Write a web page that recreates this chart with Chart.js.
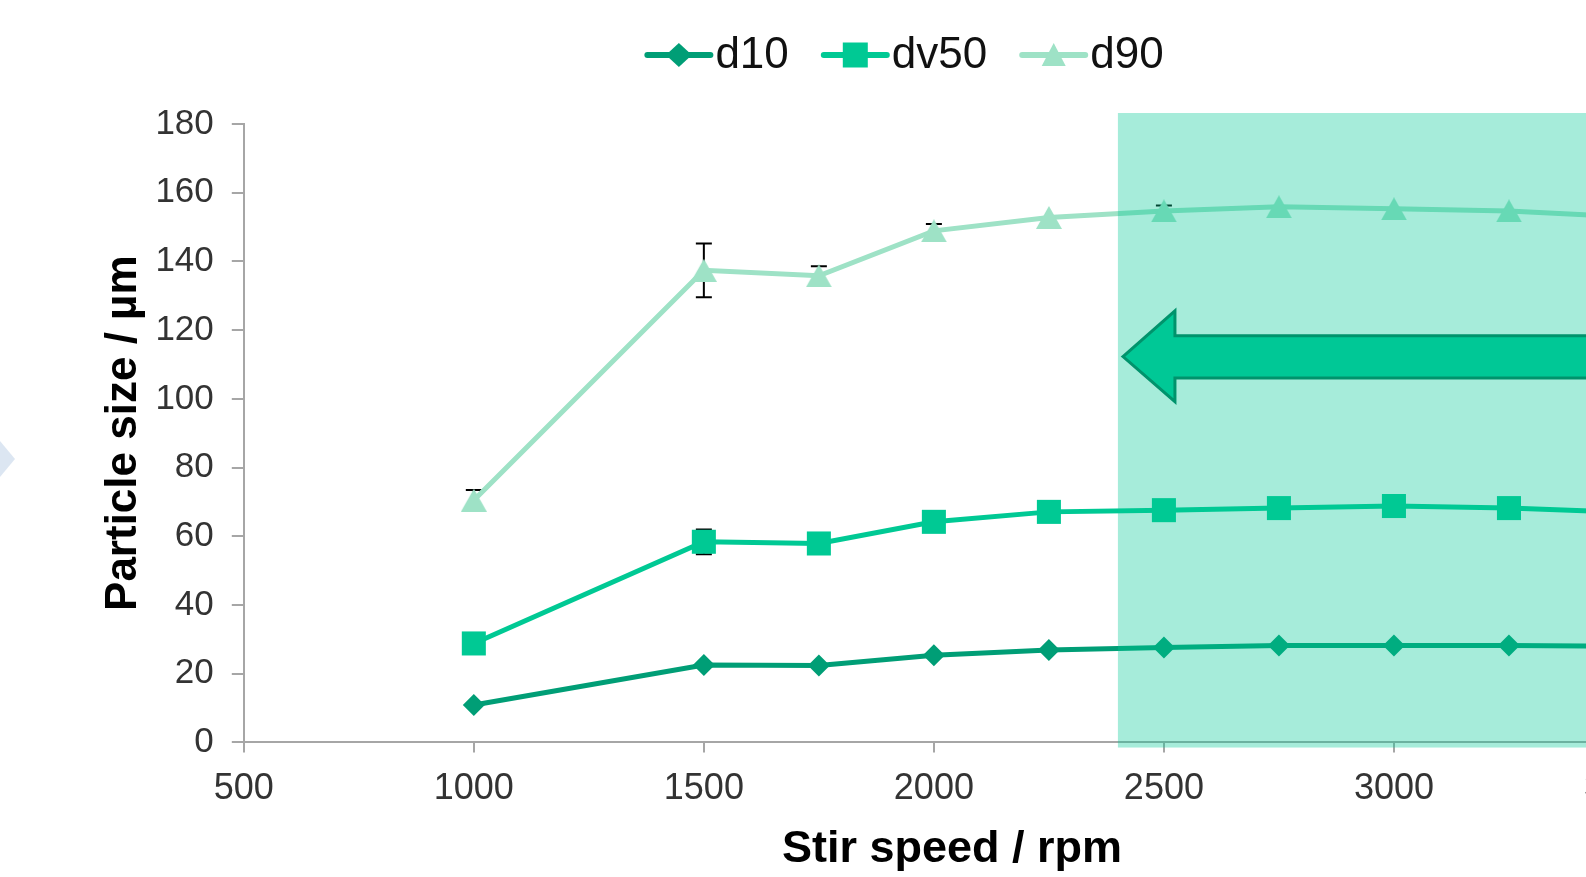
<!DOCTYPE html>
<html>
<head>
<meta charset="utf-8">
<script src="https://cdn.jsdelivr.net/npm/chart.js@4"></script>
<style>
html,body{margin:0;padding:0;overflow:hidden;background:#fff;width:1586px;height:877px;}
#wrap{position:absolute;left:0;top:0;width:1914px;height:877px;}
#deco{position:absolute;left:0;top:441px;width:15px;height:36px;background:#DCE6F2;clip-path:polygon(0 0,100% 50%,0 100%);}
</style>
</head>
<body>
<div id="wrap"><canvas id="c"></canvas></div>
<div id="deco"></div>
<script>
// ---- data ----
const stirSpeed = [1000, 1500, 1750, 2000, 2250, 2500, 2750, 3000, 3250, 3500];
const d10  = [10.9, 22.5, 22.4, 25.4, 26.9, 27.6, 28.2, 28.2, 28.2, 28.0];
const dv50 = [28.8, 58.4, 57.9, 64.2, 67.1, 67.6, 68.2, 68.8, 68.2, 67.0];
const d90  = [70.5, 137.4, 135.8, 148.9, 152.8, 154.7, 155.9, 155.3, 154.7, 153.0];
const d10Err  = [0, 0, 0, 0, 0, 0, 0, 0, 0, 0];
const dv50Err = [0, 3.6, 0, 0, 0, 0, 0, 0, 0, 0];
const d90Err  = [3.0, 7.8, 2.8, 2.0, 0, 1.6, 0, 0, 0, 0];
const seriesNames = ['d10', 'dv50', 'd90'];
const xTicks = [500, 1000, 1500, 2000, 2500, 3000, 3500, 4000];
const yTicks = [0, 20, 40, 60, 80, 100, 120, 140, 160, 180];
const xTitle = 'Stir speed / rpm';
const yTitle = 'Particle size / µm';
// highlighted stir-speed region and arrow annotation (data units)
const highlightX = [2400, 4000];
const highlightY = [-1.5, 183.2];
const arrowX = [2411, 2524, 4000];          // tip, head base, tail
const arrowY = [112.3, 118.4, 106.1, 125.6, 99.2]; // tip, shaft top, shaft bottom, head top, head bottom

// ---- styles ----
const FONT = '"Liberation Sans", Arial, Helvetica, sans-serif';
Chart.defaults.font.family = FONT;
const colors = ['#009E76', '#00C994', '#9EE2C6'];
const axisColor = '#A6A6A6';

// Excel-like triangle marker (centred in its bounding box)
function triangleImage(color, w, h) {
  const c = document.createElement('canvas');
  c.width = w; c.height = h;
  const g = c.getContext('2d');
  g.fillStyle = color;
  g.beginPath();
  g.moveTo(w / 2, 0); g.lineTo(w, h); g.lineTo(0, h);
  g.closePath(); g.fill();
  return c;
}
const styles = ['rectRot', 'rect', triangleImage(colors[2], 26, 23)];
const radii = [11, 17, 13];
const values = [d10, dv50, d90];
const errs = [d10Err, dv50Err, d90Err];

const datasets = seriesNames.map((name, k) => ({
  label: name,
  data: stirSpeed.map((x, i) => ({x: x, y: values[k][i]})),
  errors: errs[k],
  borderColor: colors[k],
  backgroundColor: colors[k],
  pointBackgroundColor: colors[k],
  pointBorderColor: colors[k],
  pointBorderWidth: 0,
  pointStyle: styles[k],
  pointRadius: radii[k],
  pointHoverRadius: radii[k],
  borderWidth: 5,
  tension: 0,
  clip: false
}));

const errorBars = {
  id: 'errorBars',
  beforeDatasetsDraw(chart) {
    const {ctx, scales: {x, y}} = chart;
    ctx.save();
    ctx.strokeStyle = '#000';
    ctx.lineWidth = 2;
    chart.data.datasets.forEach(ds => {
      if (!ds.errors) return;
      ds.data.forEach((p, i) => {
        const e = ds.errors[i];
        if (!e) return;
        const px = x.getPixelForValue(p.x);
        const yt = y.getPixelForValue(p.y + e), yb = y.getPixelForValue(p.y - e);
        ctx.beginPath();
        ctx.moveTo(px, yt); ctx.lineTo(px, yb);
        ctx.moveTo(px - 8, yt); ctx.lineTo(px + 8, yt);
        ctx.moveTo(px - 8, yb); ctx.lineTo(px + 8, yb);
        ctx.stroke();
      });
    });
    ctx.restore();
  }
};

const highlight = {
  id: 'highlight',
  afterDatasetsDraw(chart) {
    const {ctx, scales: {x, y}} = chart;
    ctx.save();
    const x0 = x.getPixelForValue(highlightX[0]), x1 = x.getPixelForValue(highlightX[1]);
    const y0 = y.getPixelForValue(highlightY[1]), y1 = y.getPixelForValue(highlightY[0]);
    ctx.fillStyle = 'rgba(0,200,150,0.35)';
    ctx.fillRect(x0, y0, x1 - x0, y1 - y0);
    // arrow
    const tx = x.getPixelForValue(arrowX[0]), hx = x.getPixelForValue(arrowX[1]), ex = x.getPixelForValue(arrowX[2]);
    const ty = y.getPixelForValue(arrowY[0]), st = y.getPixelForValue(arrowY[1]), sb = y.getPixelForValue(arrowY[2]);
    const ht = y.getPixelForValue(arrowY[3]), hb = y.getPixelForValue(arrowY[4]);
    ctx.beginPath();
    ctx.moveTo(tx, ty);
    ctx.lineTo(hx, ht);
    ctx.lineTo(hx, st);
    ctx.lineTo(ex, st);
    ctx.lineTo(ex, sb);
    ctx.lineTo(hx, sb);
    ctx.lineTo(hx, hb);
    ctx.closePath();
    ctx.fillStyle = '#00C896';
    ctx.fill();
    ctx.lineWidth = 3;
    ctx.lineJoin = 'miter';
    ctx.strokeStyle = '#00936C';
    ctx.stroke();
    ctx.restore();
  }
};

function drawMarker(ctx, k, cx, cy, color) {
  ctx.fillStyle = color;
  ctx.beginPath();
  if (k === 0) {
    const rx = 13, ry = 12;
    ctx.moveTo(cx - rx, cy); ctx.lineTo(cx, cy - ry); ctx.lineTo(cx + rx, cy); ctx.lineTo(cx, cy + ry);
  } else if (k === 1) {
    ctx.rect(cx - 12.5, cy - 12.5, 25, 25);
  } else {
    ctx.moveTo(cx, cy - 12); ctx.lineTo(cx + 12, cy + 11); ctx.lineTo(cx - 12, cy + 11);
  }
  ctx.closePath();
  ctx.fill();
}

const LEG = {cx: 904, cy: 55, sym: 69, gap: 2, between: 32, fontSize: 44};
const lineLegend = {
  id: 'lineLegend',
  afterDraw(chart) {
    const ctx = chart.ctx;
    ctx.save();
    ctx.font = LEG.fontSize + 'px ' + FONT;
    const items = chart.data.datasets.map((ds, k) => ({label: ds.label, color: ds.borderColor, k: k, w: ctx.measureText(ds.label).width}));
    const total = items.reduce((s, it) => s + LEG.sym + LEG.gap + it.w, 0) + LEG.between * (items.length - 1);
    let x = LEG.cx - total / 2;
    items.forEach(it => {
      ctx.strokeStyle = it.color;
      ctx.lineWidth = 6;
      ctx.lineCap = 'round';
      ctx.beginPath();
      ctx.moveTo(x + 3, LEG.cy); ctx.lineTo(x + LEG.sym - 3, LEG.cy);
      ctx.stroke();
      drawMarker(ctx, it.k, x + LEG.sym / 2, LEG.cy, it.color);
      ctx.fillStyle = '#111';
      ctx.textBaseline = 'middle';
      ctx.textAlign = 'left';
      ctx.fillText(it.label, x + LEG.sym + LEG.gap, LEG.cy + 1);
      x += LEG.sym + LEG.gap + it.w + LEG.between;
    });
    ctx.restore();
  }
};

new Chart(document.getElementById('c'), {
  type: 'line',
  data: {datasets: datasets},
  plugins: [errorBars, highlight, lineLegend],
  options: {
    responsive: true,
    maintainAspectRatio: false,
    animation: false,
    events: [],
    layout: {padding: {left: 50, right: 60, top: 124, bottom: 0}},
    plugins: {
      legend: {display: false},
      tooltip: {enabled: false},
      title: {
        display: true, position: 'bottom', text: xTitle, color: '#000',
        font: {size: 45, weight: 'bold'}, padding: {top: -2.6, bottom: 0}
      }
    },
    scales: {
      x: {
        type: 'linear', min: xTicks[0], max: xTicks[xTicks.length - 1],
        afterBuildTicks: s => { s.ticks = xTicks.map(v => ({value: v})); },
        border: {color: axisColor, width: 2},
        grid: {drawOnChartArea: false, color: axisColor, lineWidth: 2, tickLength: 10},
        ticks: {padding: 15, color: '#333', font: {size: 36}, maxRotation: 0, autoSkip: false, callback: v => String(v)}
      },
      y: {
        min: yTicks[0], max: yTicks[yTicks.length - 1],
        afterBuildTicks: s => { s.ticks = yTicks.map(v => ({value: v})); },
        border: {color: axisColor, width: 2},
        grid: {drawOnChartArea: false, color: axisColor, lineWidth: 2, tickLength: 12},
        ticks: {padding: 18, color: '#333', font: {size: 35}, callback: v => String(v)},
        title: {
          display: true, text: yTitle, color: '#000',
          font: {size: 44, weight: 'bold'}, padding: {top: 47, bottom: -12.4}
        }
      }
    }
  }
});
</script>
</body>
</html>
